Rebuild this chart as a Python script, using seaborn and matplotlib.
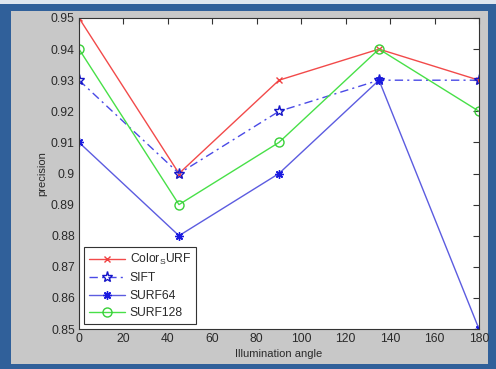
import matplotlib
matplotlib.use("Agg")
import matplotlib.pyplot as plt
import matplotlib.patches as mpatches
import pandas as pd
import seaborn as sns

# data
angles = [0, 45, 90, 135, 180]
color_surf = [0.95, 0.90, 0.93, 0.94, 0.93]
sift = [0.93, 0.90, 0.92, 0.93, 0.93]
surf64 = [0.91, 0.88, 0.90, 0.93, 0.85]
surf128 = [0.94, 0.89, 0.91, 0.94, 0.92]
x_ticks = [0, 20, 40, 60, 80, 100, 120, 140, 160, 180]
y_ticks = [0.85, 0.86, 0.87, 0.88, 0.89, 0.90, 0.91, 0.92, 0.93, 0.94, 0.95]
y_labels = ["0.85", "0.86", "0.87", "0.88", "0.89", "0.9", "0.91", "0.92", "0.93", "0.94", "0.95"]

df = pd.DataFrame({"angle": angles, "ColorSURF": color_surf, "SIFT": sift,
                   "SURF64": surf64, "SURF128": surf128})

sns.set_style("white")
plt.rcParams["font.family"] = ["Liberation Sans", "DejaVu Sans"]

fig = plt.figure(figsize=(4.96, 3.69), dpi=100)
fig.patch.set_facecolor("#30609a")
# light strip on top, grey window area inside the blue frame
fig.patches.append(mpatches.Rectangle((0, 365 / 369), 1, 4 / 369, transform=fig.transFigure,
                                      facecolor="#dfe6ef", edgecolor="none", zorder=-6))
fig.patches.append(mpatches.Rectangle((11 / 496, 5 / 369), 477 / 496, 353 / 369,
                                      transform=fig.transFigure, facecolor="#c8c8c8",
                                      edgecolor="none", zorder=-5))
ax = fig.add_axes([79 / 496, 1 - 329 / 369, 400 / 496, 311 / 369])
ax.set_zorder(2)
ax.set_facecolor("white")

asterisk = (8, 2, 0)
series = [
    ("ColorSURF", r"Color$_\mathregular{S}$URF", "#f24a4a", "-", "x", 5, "#f04040", "#f04040"),
    ("SIFT", "SIFT", "#4a4ae6", (0, (6, 3, 1.5, 3)), "*", 8, "#1515c8", "none"),
    ("SURF64", "SURF64", "#5c5ce0", "-", asterisk, 6, "#1a1ae0", "#1a1ae0"),
    ("SURF128", "SURF128", "#48e048", "-", "o", 6.5, "#38d038", "none"),
]
for col, label, color, ls, mk, ms, mcol, mface in series:
    sns.lineplot(data=df, x="angle", y=col, ax=ax, color=color, linestyle=ls,
                 linewidth=1.0, marker=mk, markersize=ms, markeredgecolor=mcol,
                 markerfacecolor=mface, markeredgewidth=1.0, label=label)

ax.set_xlim(0, 180)
ax.set_ylim(0.85, 0.95)
ax.set_xticks(x_ticks)
ax.set_yticks(y_ticks)
ax.set_yticklabels(y_labels)
ax.tick_params(direction="in", length=4, width=0.8, top=True, right=True,
               labelsize=8.7, labelcolor="#2a2a2a", color="#333333", pad=3)
for s in ax.spines.values():
    s.set_color("#333333")
    s.set_linewidth(0.8)
ax.set_xlabel("Illumination angle", fontsize=8, color="#2a2a2a", labelpad=3)
ax.set_ylabel("precision", fontsize=8, color="#2a2a2a", labelpad=3)

leg = ax.legend(loc="lower left", fontsize=8.7, frameon=True, fancybox=False,
                edgecolor="#333333", framealpha=1, borderpad=0.4, handlelength=3,
                labelspacing=0.45, handletextpad=0.4, borderaxespad=0.4)
leg.get_frame().set_linewidth(0.8)
for t in leg.get_texts():
    t.set_color("#2a2a2a")

fig.savefig("out.png", dpi=100, facecolor=fig.get_facecolor())
